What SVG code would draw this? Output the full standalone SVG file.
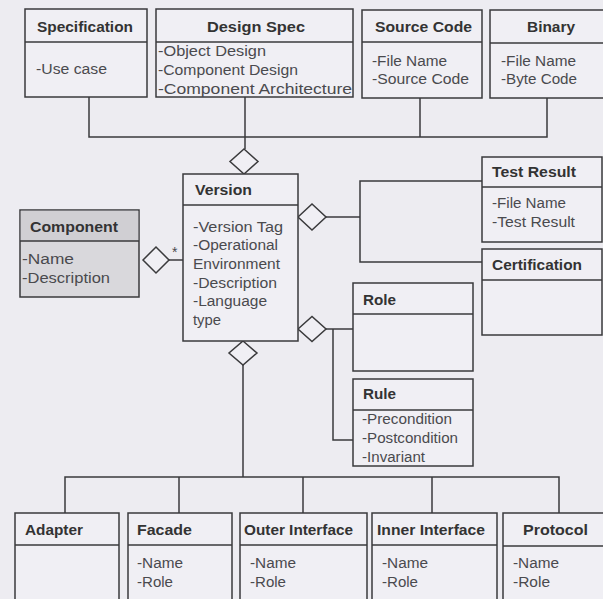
<svg xmlns="http://www.w3.org/2000/svg" width="603" height="599" viewBox="0 0 603 599">
<defs>
<style>
.bx{fill:#f0eff4;stroke:#3a3a3c;stroke-width:1.5}
.dv{stroke:#3a3a3c;stroke-width:1.5;fill:none}
.ln{stroke:#3a3a3c;stroke-width:1.5;fill:none}
.dm{fill:#f0eff4;stroke:#3a3a3c;stroke-width:1.5}
.t{font-family:"Liberation Sans",Arial,sans-serif;font-size:14px;font-weight:bold;fill:#333}
.a{font-family:"Liberation Sans",Arial,sans-serif;font-size:14px;fill:#4a4a4e}
</style>
</defs>
<rect width="603" height="599" fill="#edecf1"/>
<g id="connectors">
<polyline class="ln" points="89,97 89,137 547,137 547,98"/>
<line class="ln" x1="420" y1="98" x2="420" y2="137"/>
<line class="ln" x1="245" y1="97" x2="245" y2="149"/>
<polygon class="dm" points="244,149 258,161.5 244,174 230,161.5"/>
<polygon class="dm" points="298,217 312,204 326,217 312,230"/>
<polyline class="ln" points="326,217 360,217"/>
<polyline class="ln" points="482,181 360,181 360,262 482,262"/>
<polygon class="dm" points="298,329 312,316.5 326,329 312,341.5"/>
<line class="ln" x1="326" y1="329" x2="353" y2="329"/>
<polyline class="ln" points="333,329 333,440 353,440"/>
<polygon class="dm" points="143,260 156,247 169,260 156,273"/>
<line class="ln" x1="169" y1="260" x2="183" y2="260"/>
<text x="172" y="257" class="a" font-size="11">*</text>
<polygon class="dm" points="243,341 257,353 243,365 229,353"/>
<line class="ln" x1="243" y1="365" x2="243" y2="477"/>
<polyline class="ln" points="65,513 65,477 559,477 559,513"/>
<line class="ln" x1="179" y1="477" x2="179" y2="513"/>
<line class="ln" x1="303" y1="477" x2="303" y2="513"/>
<line class="ln" x1="432" y1="477" x2="432" y2="513"/>
</g>
<g id="specification">
<rect class="bx" x="25" y="9" width="122" height="88"/>
<line class="dv" x1="25" y1="42" x2="147" y2="42"/>
<text class="t" x="37" y="32" textLength="96" lengthAdjust="spacingAndGlyphs">Specification</text>
<text class="a" x="36" y="74" textLength="71" lengthAdjust="spacingAndGlyphs">-Use case</text>
</g>
<g id="design-spec">
<rect class="bx" x="156" y="9" width="197" height="88"/>
<line class="dv" x1="156" y1="42" x2="353" y2="42"/>
<text class="t" x="207" y="32" textLength="98" lengthAdjust="spacingAndGlyphs">Design Spec</text>
<text class="a" x="158" y="56" textLength="108" lengthAdjust="spacingAndGlyphs">-Object Design</text>
<text class="a" x="158" y="75" textLength="140" lengthAdjust="spacingAndGlyphs">-Component Design</text>
<text class="a" x="158" y="94" textLength="194" lengthAdjust="spacingAndGlyphs">-Component Architecture</text>
</g>
<g id="source-code">
<rect class="bx" x="362" y="10" width="120" height="88"/>
<line class="dv" x1="362" y1="42" x2="482" y2="42"/>
<text class="t" x="375" y="32" textLength="97" lengthAdjust="spacingAndGlyphs">Source Code</text>
<text class="a" x="372" y="66" textLength="75" lengthAdjust="spacingAndGlyphs">-File Name</text>
<text class="a" x="372" y="84" textLength="97" lengthAdjust="spacingAndGlyphs">-Source Code</text>
</g>
<g id="binary">
<rect class="bx" x="490" y="10" width="120" height="88"/>
<line class="dv" x1="490" y1="43" x2="603" y2="43"/>
<text class="t" x="527" y="32" textLength="48" lengthAdjust="spacingAndGlyphs">Binary</text>
<text class="a" x="501" y="66" textLength="75" lengthAdjust="spacingAndGlyphs">-File Name</text>
<text class="a" x="501" y="84" textLength="76" lengthAdjust="spacingAndGlyphs">-Byte Code</text>
</g>
<g id="version">
<rect class="bx" x="183" y="174" width="115" height="167"/>
<line class="dv" x1="183" y1="205" x2="298" y2="205"/>
<text class="t" x="195" y="195" textLength="57" lengthAdjust="spacingAndGlyphs">Version</text>
<text class="a" x="193" y="232" textLength="90" lengthAdjust="spacingAndGlyphs">-Version Tag</text>
<text class="a" x="193" y="250" textLength="85" lengthAdjust="spacingAndGlyphs">-Operational</text>
<text class="a" x="193" y="269" textLength="87" lengthAdjust="spacingAndGlyphs">Environment</text>
<text class="a" x="193" y="288" textLength="84" lengthAdjust="spacingAndGlyphs">-Description</text>
<text class="a" x="193" y="306" textLength="74" lengthAdjust="spacingAndGlyphs">-Language</text>
<text class="a" x="193" y="325" textLength="28" lengthAdjust="spacingAndGlyphs">type</text>
</g>
<g id="component">
<rect x="20" y="210" width="119" height="87" fill="#d9d8dc" stroke="#3a3a3c" stroke-width="1.5"/>
<rect x="20.75" y="210.75" width="117.5" height="30.25" fill="#d0cfd3"/>
<line class="dv" x1="20" y1="241" x2="139" y2="241"/>
<text class="t" x="30" y="232" textLength="88" lengthAdjust="spacingAndGlyphs">Component</text>
<text class="a" x="22" y="264" textLength="52" lengthAdjust="spacingAndGlyphs">-Name</text>
<text class="a" x="22" y="283" textLength="88" lengthAdjust="spacingAndGlyphs">-Description</text>
</g>
<g id="test-result">
<rect class="bx" x="482" y="157" width="120" height="85"/>
<line class="dv" x1="482" y1="187" x2="602" y2="187"/>
<text class="t" x="492" y="177" textLength="84" lengthAdjust="spacingAndGlyphs">Test Result</text>
<text class="a" x="492" y="208" textLength="74" lengthAdjust="spacingAndGlyphs">-File Name</text>
<text class="a" x="492" y="227" textLength="83" lengthAdjust="spacingAndGlyphs">-Test Result</text>
</g>
<g id="certification">
<rect class="bx" x="482" y="249" width="120" height="86"/>
<line class="dv" x1="482" y1="280" x2="602" y2="280"/>
<text class="t" x="492" y="270" textLength="90" lengthAdjust="spacingAndGlyphs">Certification</text>
</g>
<g id="role">
<rect class="bx" x="353" y="283" width="120" height="88"/>
<line class="dv" x1="353" y1="314" x2="473" y2="314"/>
<text class="t" x="363" y="305" textLength="33" lengthAdjust="spacingAndGlyphs">Role</text>
</g>
<g id="rule">
<rect class="bx" x="353" y="379" width="120" height="87"/>
<line class="dv" x1="353" y1="410" x2="473" y2="410"/>
<text class="t" x="363" y="399" textLength="33" lengthAdjust="spacingAndGlyphs">Rule</text>
<text class="a" x="362" y="424" textLength="90" lengthAdjust="spacingAndGlyphs">-Precondition</text>
<text class="a" x="362" y="443" textLength="96" lengthAdjust="spacingAndGlyphs">-Postcondition</text>
<text class="a" x="362" y="462" textLength="63" lengthAdjust="spacingAndGlyphs">-Invariant</text>
</g>
<g id="adapter">
<rect class="bx" x="15" y="513" width="104" height="100"/>
<line class="dv" x1="15" y1="545" x2="119" y2="545"/>
<text class="t" x="25" y="535" textLength="58" lengthAdjust="spacingAndGlyphs">Adapter</text>
</g>
<g id="facade">
<rect class="bx" x="128" y="513" width="104" height="100"/>
<line class="dv" x1="128" y1="545" x2="232" y2="545"/>
<text class="t" x="137" y="535" textLength="55" lengthAdjust="spacingAndGlyphs">Facade</text>
<text class="a" x="137" y="568" textLength="46" lengthAdjust="spacingAndGlyphs">-Name</text>
<text class="a" x="137" y="587" textLength="36" lengthAdjust="spacingAndGlyphs">-Role</text>
</g>
<g id="outer-interface">
<rect class="bx" x="240" y="513" width="127" height="100"/>
<line class="dv" x1="240" y1="545" x2="367" y2="545"/>
<text class="t" x="244" y="535" textLength="109" lengthAdjust="spacingAndGlyphs">Outer Interface</text>
<text class="a" x="250" y="568" textLength="46" lengthAdjust="spacingAndGlyphs">-Name</text>
<text class="a" x="250" y="587" textLength="36" lengthAdjust="spacingAndGlyphs">-Role</text>
</g>
<g id="inner-interface">
<rect class="bx" x="372" y="513" width="125" height="100"/>
<line class="dv" x1="372" y1="545" x2="497" y2="545"/>
<text class="t" x="377" y="535" textLength="108" lengthAdjust="spacingAndGlyphs">Inner Interface</text>
<text class="a" x="382" y="568" textLength="46" lengthAdjust="spacingAndGlyphs">-Name</text>
<text class="a" x="382" y="587" textLength="36" lengthAdjust="spacingAndGlyphs">-Role</text>
</g>
<g id="protocol">
<rect class="bx" x="503" y="513" width="110" height="100"/>
<line class="dv" x1="503" y1="546" x2="603" y2="546"/>
<text class="t" x="523" y="535" textLength="65" lengthAdjust="spacingAndGlyphs">Protocol</text>
<text class="a" x="513" y="568" textLength="46" lengthAdjust="spacingAndGlyphs">-Name</text>
<text class="a" x="513" y="587" textLength="37" lengthAdjust="spacingAndGlyphs">-Role</text>
</g>
</svg>
